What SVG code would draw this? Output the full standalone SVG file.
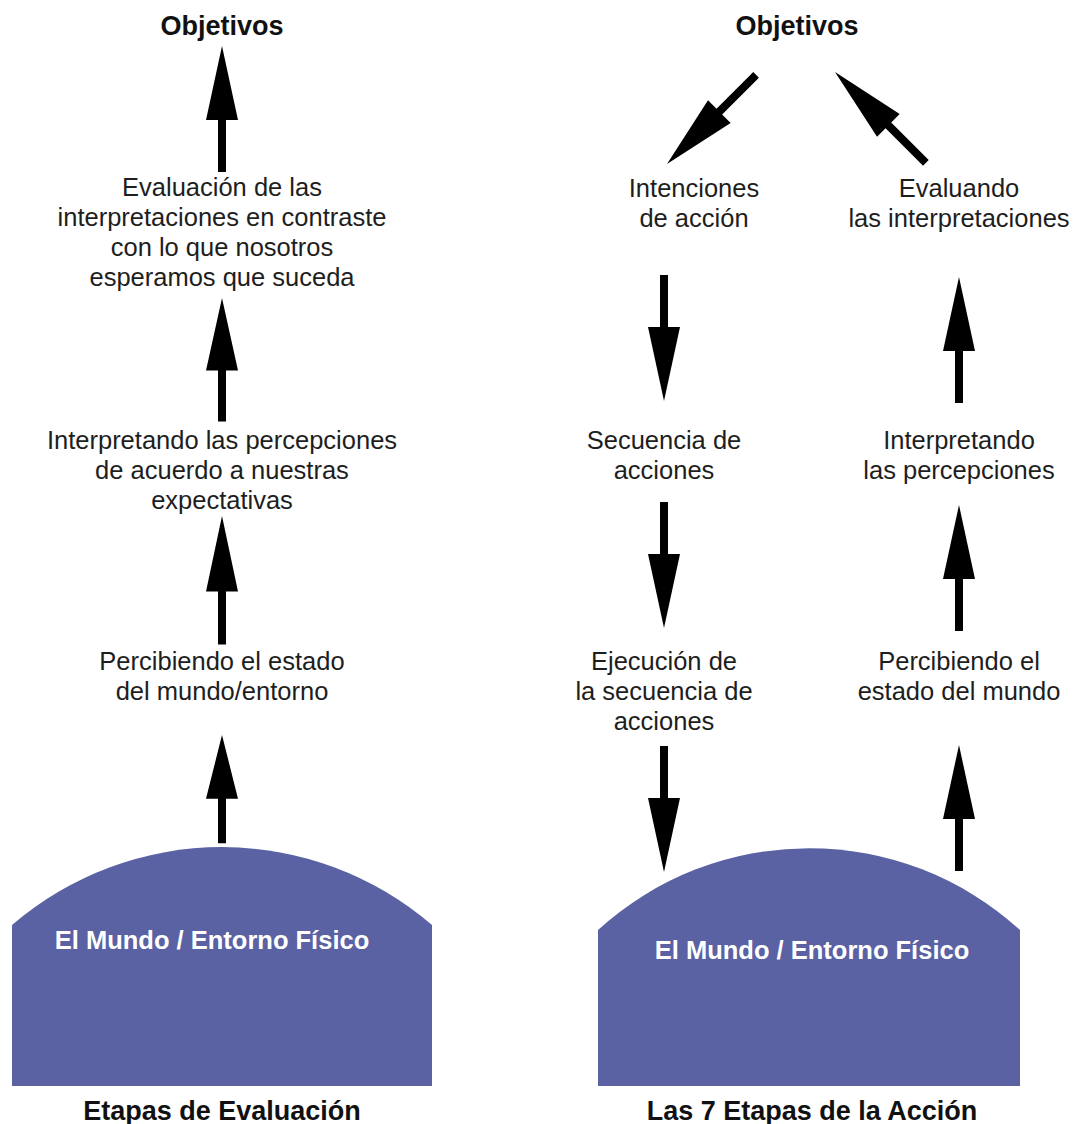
<svg xmlns="http://www.w3.org/2000/svg" width="1073" height="1124" viewBox="0 0 1073 1124">
  <style>
    .lbl { font-family: "Liberation Sans", Arial, sans-serif; font-size: 25.5px; fill: #1e1e1e; text-anchor: middle; }
    .ttl { font-family: "Liberation Sans", Arial, sans-serif; font-size: 27px; font-weight: bold; fill: #111; text-anchor: middle; }
    .world { fill: #5a62a4; }
    .wtxt { font-family: "Liberation Sans", Arial, sans-serif; font-size: 25.5px; font-weight: bold; fill: #ffffff; text-anchor: middle; }
    .arr { fill: #000; }
  </style>
  <defs>
    <!-- block arrow pointing up, tip at 0,0 -->
    <polygon id="up" points="0,0 16,74 4,74 4,126 -4,126 -4,74 -16,74"/>
  </defs>
  <rect width="1073" height="1124" fill="#fff"/>

  <!-- Left diagram: evaluation stages -->
  <g id="l-goals"><text class="ttl" x="222" y="35">Objetivos</text></g>
  <g id="l-evaluate">
    <text class="lbl" x="222" y="196">Evaluación de las</text>
    <text class="lbl" x="222" y="226">interpretaciones en contraste</text>
    <text class="lbl" x="222" y="256">con lo que nosotros</text>
    <text class="lbl" x="222" y="286">esperamos que suceda</text>
  </g>
  <g id="l-interpret">
    <text class="lbl" x="222" y="449">Interpretando las percepciones</text>
    <text class="lbl" x="222" y="479">de acuerdo a nuestras</text>
    <text class="lbl" x="222" y="509">expectativas</text>
  </g>
  <g id="l-perceive">
    <text class="lbl" x="222" y="670">Percibiendo el estado</text>
    <text class="lbl" x="222" y="700">del mundo/entorno</text>
  </g>
  <g id="l-world">
    <path class="world" d="M12,925 A322,322 0 0 1 432,925 L432,1086 L12,1086 Z"/>
    <text class="wtxt" x="212" y="949">El Mundo / Entorno Físico</text>
  </g>
  <g id="l-caption"><text class="ttl" x="222" y="1120">Etapas de Evaluación</text></g>

  <!-- Right diagram: seven stages of action -->
  <g id="r-goals"><text class="ttl" x="797" y="35">Objetivos</text></g>
  <g id="r-intent">
    <text class="lbl" x="694" y="197">Intenciones</text>
    <text class="lbl" x="694" y="227">de acción</text>
  </g>
  <g id="r-evaluate">
    <text class="lbl" x="959" y="197">Evaluando</text>
    <text class="lbl" x="959" y="227">las interpretaciones</text>
  </g>
  <g id="r-sequence">
    <text class="lbl" x="664" y="449">Secuencia de</text>
    <text class="lbl" x="664" y="479">acciones</text>
  </g>
  <g id="r-interpret">
    <text class="lbl" x="959" y="449">Interpretando</text>
    <text class="lbl" x="959" y="479">las percepciones</text>
  </g>
  <g id="r-execute">
    <text class="lbl" x="664" y="670">Ejecución de</text>
    <text class="lbl" x="664" y="700">la secuencia de</text>
    <text class="lbl" x="664" y="730">acciones</text>
  </g>
  <g id="r-perceive">
    <text class="lbl" x="959" y="670">Percibiendo el</text>
    <text class="lbl" x="959" y="700">estado del mundo</text>
  </g>
  <g id="r-world">
    <path class="world" d="M598,930 A313,313 0 0 1 1020,930 L1020,1086 L598,1086 Z"/>
    <text class="wtxt" x="812" y="959">El Mundo / Entorno Físico</text>
  </g>
  <g id="r-caption"><text class="ttl" x="812" y="1120">Las 7 Etapas de la Acción</text></g>

  <!-- Connectors -->
  <g id="connectors" class="arr">
    <use href="#up" transform="translate(222,46)"/>
    <use href="#up" transform="translate(222,298) scale(1,0.98)"/>
    <use href="#up" transform="translate(222,516) scale(1,1.02)"/>
    <use href="#up" transform="translate(222,735) scale(1,0.86)"/>

    <use href="#up" transform="translate(664,401) scale(1,-1)"/>
    <use href="#up" transform="translate(664,628) scale(1,-1)"/>
    <use href="#up" transform="translate(664,872) scale(1,-1)"/>

    <use href="#up" transform="translate(959,277)"/>
    <use href="#up" transform="translate(959,505)"/>
    <use href="#up" transform="translate(959,745)"/>

    <!-- diagonal arrows between goals and the two branches -->
    <use href="#up" transform="translate(667,164) rotate(-135)"/>
    <use href="#up" transform="translate(835,72) rotate(-45) scale(1,1.02)"/>
  </g>
</svg>
